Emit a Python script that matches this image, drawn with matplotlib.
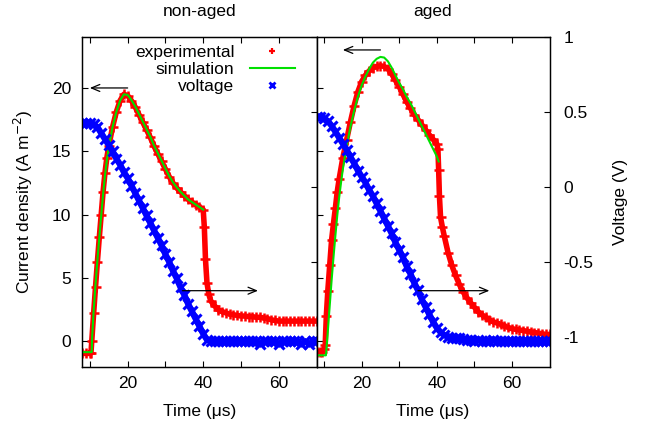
import matplotlib
matplotlib.use("Agg")
import matplotlib.pyplot as plt
from matplotlib.lines import Line2D

plt.rcParams['font.family'] = ['Liberation Sans', 'DejaVu Sans']
plt.rcParams['axes.unicode_minus'] = False

# ---------------- data ----------------
panel_titles = ["non-aged", "aged"]
legend_labels = ["experimental", "simulation", "voltage"]

# non-aged: experimental current density (A m^-2)
t_na_exp = [8, 9, 10, 10.3, 10.5, 11, 11.5, 12, 12.5, 13, 13.5, 14, 14.5, 15,
            16, 17, 18, 19, 20, 21, 22, 23, 24, 25, 26, 27, 28, 29, 30, 31, 32,
            33, 34, 35, 36, 37, 38, 39, 40, 40.3, 40.6, 41, 41.5, 42,
            43, 44, 45, 46, 47, 48, 49, 50, 51, 52, 53, 54, 55, 56, 57, 58, 59,
            60, 61, 62, 63, 64, 65, 66, 67, 68, 69, 70]
j_na_exp = [-0.95, -0.95, -0.95, -0.9, 0.0, 2.2, 4.3, 6.3, 8.2, 10.0, 11.8, 13.3, 14.5, 15.4,
            16.9, 18.1, 19.0, 19.5, 19.4, 19.0, 18.5, 17.9, 17.3, 16.7, 16.1, 15.4, 14.8, 14.2, 13.6, 13.0, 12.5,
            12.1, 11.8, 11.5, 11.2, 11.0, 10.8, 10.6, 10.4, 9.0, 6.5, 4.6, 3.7, 3.2,
            2.8, 2.5, 2.35, 2.25, 2.15, 2.1, 2.05, 2.0, 2.0, 1.95, 1.95, 1.9, 1.9, 1.85, 1.8, 1.7, 1.65,
            1.6, 1.6, 1.6, 1.6, 1.6, 1.6, 1.6, 1.6, 1.6, 1.6, 1.6]

# non-aged: simulation
t_na_sim = [8, 10.5, 10.6, 11, 11.5, 12, 12.5, 13, 13.5, 14, 14.5, 15,
            16, 17, 18, 19, 20, 21, 22, 23, 24, 25, 26, 27, 28, 29, 30, 31, 32,
            33, 34, 35, 36, 37, 38, 39, 40]
j_na_sim = [-0.85, -0.85, 0.3, 2.4, 4.5, 6.4, 8.2, 9.9, 11.6, 13.1, 14.3, 15.3,
            16.9, 18.1, 19.0, 19.5, 19.45, 19.05, 18.55, 17.95, 17.35, 16.75, 16.15, 15.45, 14.85, 14.25,
            13.65, 13.05, 12.55, 12.15, 11.8, 11.5, 11.2, 11.0, 10.8, 10.6, 10.4]

# aged: experimental
t_a_exp = [8, 9, 9.5, 10, 10.3, 10.6, 11, 11.5, 12, 12.5, 13, 13.5, 14,
           15, 16, 17, 18, 19, 20, 21, 22, 23, 24, 25, 26, 27, 28, 29, 30, 31, 32,
           33, 34, 35, 36, 37, 38, 39, 40, 40.3, 40.5, 40.7, 41, 41.5, 42,
           43, 44, 45, 46, 47, 48, 49, 50, 51, 52, 53, 54, 55, 56, 57, 58, 59,
           60, 61, 62, 63, 64, 65, 66, 67, 68, 69, 70]
j_a_exp = [-0.8, -0.8, -0.8, -0.6, -0.3, 2.0, 4.0, 6.0, 8.0, 9.3, 10.5, 11.8, 12.8,
           14.5, 15.9, 17.3, 18.6, 19.7, 20.5, 21.0, 21.35, 21.6, 21.7, 21.75, 21.7, 21.5, 21.1, 20.6,
           20.1, 19.5, 18.9, 18.4, 17.9, 17.5, 17.1, 16.7, 16.3, 15.95, 15.6,
           15.2, 13.5, 11.5, 9.8, 9.0, 8.3,
           7.0, 6.0, 5.2, 4.5, 3.9, 3.45, 3.05, 2.7, 2.35, 2.1, 1.9, 1.7, 1.55, 1.45, 1.35, 1.2, 1.1,
           1.0, 0.95, 0.9, 0.85, 0.8, 0.75, 0.7, 0.65, 0.6, 0.55, 0.55]

# aged: simulation
t_a_sim = [8, 10.5, 11, 11.5, 12, 12.5, 13, 13.5, 14, 14.5, 15,
           16, 17, 18, 19, 20, 21, 22, 23, 24, 25, 26, 27, 28, 29, 30, 31, 32,
           33, 34, 35, 36, 37, 38, 39, 40, 40.5]
j_a_sim = [-1.1, -1.1, 0.8, 2.8, 4.8, 6.6, 8.3, 9.9, 11.3, 12.5, 13.6,
           15.4, 16.9, 18.2, 19.3, 20.2, 20.9, 21.5, 22.0, 22.3, 22.45, 22.4, 22.1, 21.6, 21.0,
           20.4, 19.9, 19.3, 18.8, 18.2, 17.6, 17.0, 16.4, 15.8, 15.2, 14.6, 14.2]

# voltage (V), sampled every microsecond from 8 to 70
t_v = [8, 9, 10, 11, 12, 13, 14, 15, 16, 17, 18, 19, 20, 21, 22, 23, 24, 25, 26, 27, 28, 29,
       30, 31, 32, 33, 34, 35, 36, 37, 38, 39, 40, 41, 42, 43, 44, 45, 46, 47, 48, 49, 50,
       51, 52, 53, 54, 55, 56, 57, 58, 59, 60, 61, 62, 63, 64, 65, 66, 67, 68, 69, 70]
v_na = [0.43, 0.43, 0.43, 0.42, 0.40, 0.36, 0.32, 0.28, 0.24, 0.19, 0.15, 0.10, 0.06, 0.01,
        -0.04, -0.09, -0.14, -0.19, -0.24, -0.29, -0.34, -0.39, -0.45, -0.50, -0.56, -0.61,
        -0.67, -0.72, -0.78, -0.83, -0.88, -0.93, -0.98, -1.02, -1.03, -1.03, -1.03, -1.03,
        -1.03, -1.03, -1.03, -1.03, -1.03, -1.03, -1.03, -1.03, -1.03, -1.05, -1.03, -1.03,
        -1.03, -1.03, -1.05, -1.03, -1.03, -1.03, -1.03, -1.03, -1.05, -1.03, -1.05, -1.03, -1.03]
v_a = [0.47, 0.47, 0.46, 0.44, 0.41, 0.37, 0.33, 0.29, 0.25, 0.20, 0.16, 0.11, 0.07, 0.03,
       -0.02, -0.06, -0.11, -0.16, -0.21, -0.26, -0.31, -0.37, -0.42, -0.47, -0.53, -0.58,
       -0.64, -0.69, -0.75, -0.80, -0.85, -0.90, -0.94, -0.97, -0.99, -1.00, -1.005, -1.01,
       -1.01, -1.015, -1.02, -1.02, -1.025, -1.02, -1.03, -1.025, -1.03, -1.02, -1.03, -1.03,
       -1.03, -1.025, -1.03, -1.03, -1.03, -1.03, -1.03, -1.03, -1.03, -1.03, -1.03, -1.03, -1.03]

panels = [
    (t_na_exp, j_na_exp, t_na_sim, j_na_sim, v_na),
    (t_a_exp, j_a_exp, t_a_sim, j_a_sim, v_a),
]

# arrows: (x_start, y_start, x_end, y_end) in current-density coordinates
arrows = [
    [(20, 20, 10, 20), (34.5, 4, 54.5, 4)],
    [(25, 23, 15, 23), (35, 4, 54, 4)],
]

RED = '#ff0000'
GREEN = '#00e000'
BLUE = '#0000ff'

fig = plt.figure(figsize=(6.48, 4.28), dpi=100)
axes_pos = [[0.127, 0.1432, 0.3615, 0.7697], [0.4885, 0.1432, 0.3595, 0.7697]]

FS = 12.5
for i, (te, je, ts, js, vv) in enumerate(panels):
    ax = fig.add_axes(axes_pos[i])
    axv = ax.twinx()

    ax.plot(te, je, color=RED, lw=4.0, solid_capstyle='round', zorder=2)
    ax.plot(te, je, ls='none', marker='+', ms=7, mew=1.8, color=RED, zorder=2)
    ax.plot(ts, js, color=GREEN, lw=1.5, zorder=3)

    axv.plot(t_v, vv, color=BLUE, lw=4.5, solid_capstyle='round', zorder=2)
    axv.plot(t_v, vv, ls='none', marker='x', ms=6.5, mew=2.2, color=BLUE, zorder=2)

    for (x0, y0, x1, y1) in arrows[i]:
        axv.annotate('', xy=(x1, y1), xytext=(x0, y0),
                     xycoords=ax.transData, textcoords=ax.transData,
                     arrowprops=dict(arrowstyle='->,head_length=0.6,head_width=0.25',
                                     lw=0.9, color='black', shrinkA=0, shrinkB=0))

    ax.set_xlim(8, 70)
    ax.set_ylim(-2, 24)
    axv.set_ylim(-1.2, 1)

    ax.set_xticks([10, 20, 30, 40, 50, 60])
    ax.set_xticklabels(['', '20', '', '40', '', '60'])
    ax.set_yticks([0, 5, 10, 15, 20])
    axv.set_yticks([-1, -0.5, 0, 0.5, 1])
    axv.set_yticklabels(['-1', '-0.5', '0', '0.5', '1'])

    ax.tick_params(axis='x', direction='in', top=True, length=4, width=0.8,
                   labelsize=FS, pad=7)
    ax.tick_params(axis='y', direction='in', left=True, right=False, length=4,
                   width=0.8, labelsize=FS, pad=8, labelleft=(i == 0))
    axv.tick_params(axis='y', direction='in', length=4, width=0.8, labelsize=FS,
                    pad=10, labelright=(i == 1))

    ax.set_xlabel('Time (\u03bcs)', fontsize=FS, labelpad=9)
    ax.set_title(panel_titles[i], fontsize=FS, pad=15)
    if i == 0:
        ax.set_ylabel('Current density (A m$^{-2}$)', fontsize=FS, labelpad=12)
        handles = [
            Line2D([], [], ls='none', marker='+', ms=5, mew=1.6, color=RED),
            Line2D([], [], color=GREEN, lw=1.5),
            Line2D([], [], ls='none', marker='x', ms=5, mew=2.0, color=BLUE),
        ]
        leg = axv.legend(handles, legend_labels, loc='upper right',
                         bbox_to_anchor=(0.96, 1.015), frameon=False,
                         markerfirst=False, fontsize=FS, handlelength=2.6,
                         handletextpad=0.9, labelspacing=0.12, borderaxespad=0.3)
    else:
        axv.set_ylabel('Voltage (V)', fontsize=FS, labelpad=14)

    for a in (ax, axv):
        for s in a.spines.values():
            s.set_linewidth(0.9)

fig.savefig('out.png', dpi=100)
